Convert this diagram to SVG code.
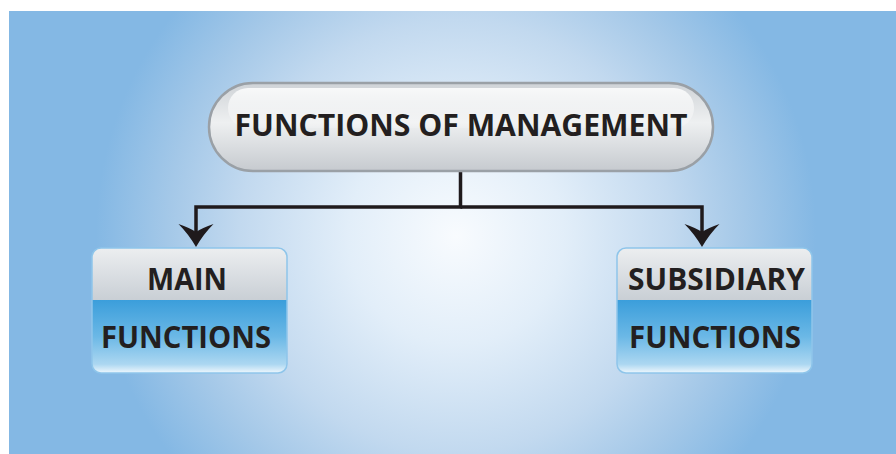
<svg xmlns="http://www.w3.org/2000/svg" width="896" height="454" viewBox="0 0 896 454">
  <defs>
    <radialGradient id="bg" gradientUnits="userSpaceOnUse" cx="456" cy="236" r="360">
      <stop offset="0" stop-color="#f8fbfe"/>
      <stop offset="0.3" stop-color="#e2eef9"/>
      <stop offset="0.6" stop-color="#c2d9ef"/>
      <stop offset="0.8" stop-color="#a4c8e8"/>
      <stop offset="1" stop-color="#84b8e4"/>
    </radialGradient>
    <linearGradient id="pillFill" x1="0" y1="0" x2="0" y2="1">
      <stop offset="0" stop-color="#cfd3d7"/>
      <stop offset="0.45" stop-color="#eef0f1"/>
      <stop offset="1" stop-color="#c6cacf"/>
    </linearGradient>
    <linearGradient id="pillGloss" x1="0" y1="0" x2="0" y2="1">
      <stop offset="0" stop-color="#ffffff" stop-opacity="0.85"/>
      <stop offset="1" stop-color="#ffffff" stop-opacity="0.15"/>
    </linearGradient>
    <linearGradient id="boxTop" x1="0" y1="0" x2="0" y2="1">
      <stop offset="0" stop-color="#eceef0"/>
      <stop offset="1" stop-color="#c9cfd5"/>
    </linearGradient>
    <linearGradient id="boxBot" x1="0" y1="0" x2="0" y2="1">
      <stop offset="0" stop-color="#3b9edb"/>
      <stop offset="0.5" stop-color="#6bb8e6"/>
      <stop offset="0.88" stop-color="#acd7f1"/>
      <stop offset="1" stop-color="#eef7fd"/>
    </linearGradient>
    <marker id="arrow" markerUnits="userSpaceOnUse" viewBox="0 -19 24 38" markerWidth="24" markerHeight="38" refX="8" refY="0" orient="auto">
      <path d="M23,0 Q10,-7.5 0,-17.5 Q4,-6 8,0 Q4,6 0,17.5 Q10,7.5 23,0 Z" fill="#1f1a1c"/>
    </marker>
    <style>
      .lbl { font-family: "Open Sans", "Liberation Sans", sans-serif; font-weight: 700; fill: #231f20; }
      .conn { fill: none; stroke: #1f1a1c; stroke-width: 3.5; stroke-linejoin: miter; }
      .box { stroke: #8ec5ea; stroke-width: 1.5; }
    </style>
    <clipPath id="clipL"><rect x="92" y="248" width="195" height="125" rx="9"/></clipPath>
    <clipPath id="clipR"><rect x="617" y="248" width="195" height="125" rx="9"/></clipPath>
  </defs>

  <rect x="0" y="0" width="896" height="454" fill="#ffffff"/>
  <rect x="9" y="11" width="887" height="443" fill="url(#bg)"/>

  <g id="connectors">
    <path class="conn" d="M460.5,171 V207 H196 V232" marker-end="url(#arrow)"/>
    <path class="conn" d="M460.5,207 H702 V232" marker-end="url(#arrow)"/>
  </g>

  <g id="node-management">
    <rect x="209" y="83" width="504" height="88" rx="44" fill="url(#pillFill)" stroke="#9aa0a6" stroke-width="2.5"/>
    <rect x="228" y="88" width="466" height="40" rx="20" fill="url(#pillGloss)"/>
    <text class="lbl" x="461" y="136" font-size="31" text-anchor="middle" textLength="453" lengthAdjust="spacingAndGlyphs">FUNCTIONS OF MANAGEMENT</text>
  </g>

  <g id="node-main">
    <g clip-path="url(#clipL)">
      <rect x="92" y="248" width="195" height="52" fill="url(#boxTop)"/>
      <rect x="92" y="300" width="195" height="73" fill="url(#boxBot)"/>
    </g>
    <rect class="box" x="92" y="248" width="195" height="125" rx="9" fill="none"/>
    <text class="lbl" x="187" y="290" font-size="31" text-anchor="middle" textLength="80" lengthAdjust="spacingAndGlyphs">MAIN</text>
    <text class="lbl" x="186" y="348" font-size="31" text-anchor="middle" textLength="170" lengthAdjust="spacingAndGlyphs">FUNCTIONS</text>
  </g>

  <g id="node-subsidiary">
    <g clip-path="url(#clipR)">
      <rect x="617" y="248" width="195" height="52" fill="url(#boxTop)"/>
      <rect x="617" y="300" width="195" height="73" fill="url(#boxBot)"/>
    </g>
    <rect class="box" x="617" y="248" width="195" height="125" rx="9" fill="none"/>
    <text class="lbl" x="716.5" y="290" font-size="31" text-anchor="middle" textLength="177" lengthAdjust="spacingAndGlyphs">SUBSIDIARY</text>
    <text class="lbl" x="715" y="348" font-size="31" text-anchor="middle" textLength="172" lengthAdjust="spacingAndGlyphs">FUNCTIONS</text>
  </g>
</svg>
